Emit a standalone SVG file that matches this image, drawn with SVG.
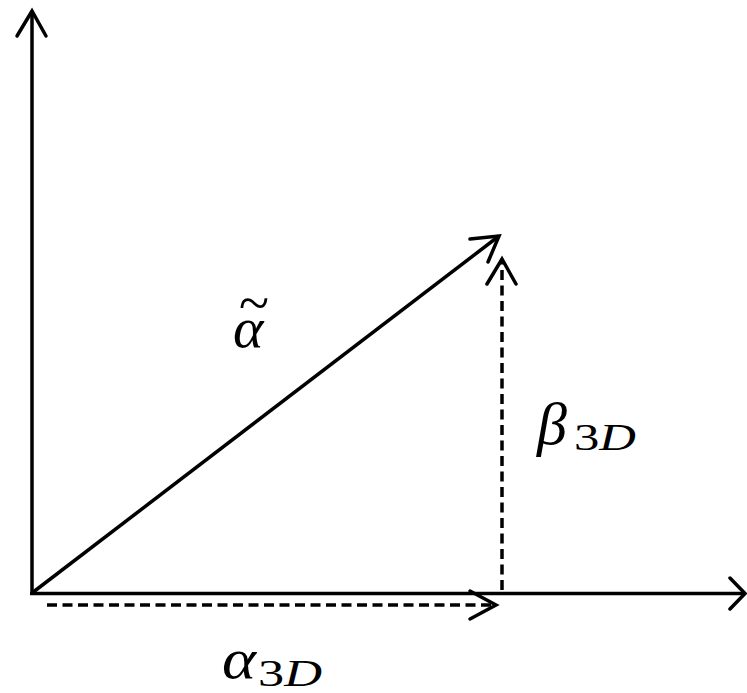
<svg xmlns="http://www.w3.org/2000/svg" width="747" height="693" viewBox="0 0 747 693">
<style>
.ln{stroke:#000;stroke-width:3.5;fill:none;stroke-linecap:butt}
.hd{stroke:#000;stroke-width:3.5;fill:none;stroke-linecap:round;stroke-linejoin:miter}
.ds{stroke-dasharray:10 5.5}
.m{font-family:"Liberation Serif",serif;font-style:italic;fill:#000}
.r{font-style:normal}
</style>
<rect width="747" height="693" fill="#fff"/>
<g id="connectors">
<g id="y-axis"><line class="ln" x1="32" y1="595" x2="32" y2="11"/><polyline class="hd" points="17,36 32,11 46,36"/></g>
<g id="x-axis"><line class="ln" x1="30" y1="593.5" x2="745" y2="593.5"/><polyline class="hd" points="730,578 745,593.5 730,609"/></g>
<g id="alpha-tilde-vec"><line class="ln" x1="32" y1="593" x2="499" y2="236"/><polyline class="hd" points="470,239 499,236 488,262"/></g>
<g id="beta-vec"><line class="ln ds" x1="502" y1="590" x2="502" y2="262"/><polyline class="hd" points="487,284 502,259 516,284"/></g>
<g id="alpha3d-vec"><line class="ln ds" x1="47" y1="605" x2="494" y2="605"/><polyline class="hd" points="470,591 496,605 470,619"/></g>
</g>
<g id="label-alpha-tilde"><text class="m" x="233" y="347" font-size="58">α<tspan class="r" x="239" y="322" textLength="30" lengthAdjust="spacingAndGlyphs">~</tspan></text></g>
<g id="label-beta"><text class="m" x="537" y="444" font-size="60">β</text><text class="m" x="574" y="450" font-size="38" textLength="62" lengthAdjust="spacingAndGlyphs"><tspan class="r">3</tspan>D</text></g>
<g id="label-alpha3d"><text class="m" x="222" y="678" font-size="58" textLength="34" lengthAdjust="spacingAndGlyphs">α</text><text class="m" x="258" y="686" font-size="38" textLength="64" lengthAdjust="spacingAndGlyphs"><tspan class="r">3</tspan>D</text></g>
</svg>
